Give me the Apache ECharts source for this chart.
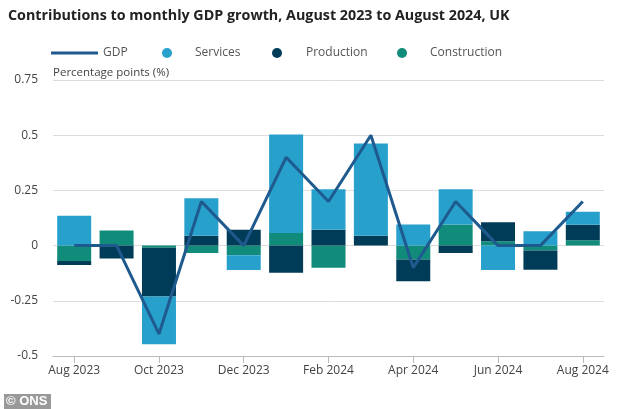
<!DOCTYPE html>
<html>
<head>
<meta charset="utf-8">
<script src="https://cdn.jsdelivr.net/npm/echarts@6/dist/echarts.min.js"></script>
<style>
html,body{margin:0;padding:0;background:#fff;}
#chart{width:634px;height:409px;}
</style>
</head>
<body>
<div id="chart"></div>
<script>
const categories = ['Aug 2023','Sep 2023','Oct 2023','Nov 2023','Dec 2023','Jan 2024','Feb 2024','Mar 2024','Apr 2024','May 2024','Jun 2024','Jul 2024','Aug 2024'];
const gdp          = [0.0, 0.0, -0.4, 0.2, 0.0, 0.4, 0.2, 0.5, -0.1, 0.2, 0.0, 0.0, 0.2];
const services     = [0.135, 0.0, -0.216, 0.17, -0.066, 0.446, 0.183, 0.417, 0.095, 0.16, -0.11, 0.065, 0.059];
const production   = [-0.018, -0.058, -0.221, 0.045, 0.072, -0.123, 0.072, 0.045, -0.098, -0.033, 0.086, -0.087, 0.07];
const construction = [-0.07, 0.068, -0.01, -0.033, -0.044, 0.057, -0.1, 0.0, -0.063, 0.095, 0.02, -0.022, 0.024];
const yTicks = [-0.5, -0.25, 0, 0.25, 0.5, 0.75];

const FONT = 'Open Sans';
const chart = echarts.init(document.getElementById('chart'), null, {renderer:'canvas'});
const legendText = {color:'#555', fontSize:12, fontFamily:FONT};
function leg(name, left, icon, w, h){
  return {data:[name], left:left, top:47, icon:icon, itemWidth:w, itemHeight:h,
    textStyle:Object.assign({}, legendText), selectedMode:false, padding:0};
}
const l1 = leg('GDP', 51, 'rect', 47, 3);
const l2 = leg('Services', 162, 'circle', 10, 10); l2.textStyle.padding=[0,0,0,18];
const l3 = leg('Production', 272, 'circle', 10, 10); l3.textStyle.padding=[0,0,0,19];
const l4 = leg('Construction', 397, 'circle', 10, 10); l4.textStyle.padding=[0,0,0,18];

chart.setOption({
  animation:false,
  backgroundColor:'#fff',
  title:{text:'Contributions to monthly GDP growth, August 2023 to August 2024, UK',
    left:8, top:9, padding:0,
    textStyle:{fontFamily:FONT, fontSize:14.3, fontWeight:'bold', color:'#222'}},
  legend:[l1,l2,l3,l4],
  grid:{left:53, right:30, top:80, bottom:53},
  xAxis:{type:'category', data:categories, boundaryGap:true,
    axisLine:{onZero:false, lineStyle:{color:'#bbb', width:1}},
    axisTick:{show:true, interval:1, alignWithLabel:true, length:7, lineStyle:{color:'#bbb'}},
    axisLabel:{interval:1, color:'#444', fontSize:12, fontFamily:FONT, margin:9}},
  yAxis:{type:'value', min:-0.5, max:0.75, interval:0.25,
    name:'Percentage points (%)', nameLocation:'end', nameGap:1,
    nameTextStyle:{align:'left', color:'#444', fontSize:11.5, fontFamily:FONT},
    axisLine:{show:false}, axisTick:{show:false},
    splitLine:{lineStyle:{color:'#ddd'}},
    axisLabel:{color:'#444', fontSize:12, fontFamily:FONT, margin:15,
      formatter:function(v){ return yTicks.indexOf(v) >= 0 ? String(v) : ''; }}},
  series:[
    {name:'GDP', type:'line', data:gdp, color:'#1f5a8e', z:5, symbol:'none',
      lineStyle:{width:3, color:'#1f5a8e'}},
    {name:'Construction', type:'bar', stack:'c', data:construction, barWidth:34, color:'#118c7b'},
    {name:'Production', type:'bar', stack:'c', data:production, barWidth:34, color:'#003c57'},
    {name:'Services', type:'bar', stack:'c', data:services, barWidth:34, color:'#27a0cc'}
  ],
  graphic:[
    {type:'rect', left:4, top:394, shape:{width:47, height:15}, style:{fill:'#999'}},
    {type:'text', left:6, top:395, style:{text:'© ONS', fill:'#fff', font:'bold 13px Arial'}}
  ]
});
</script>
</body>
</html>
